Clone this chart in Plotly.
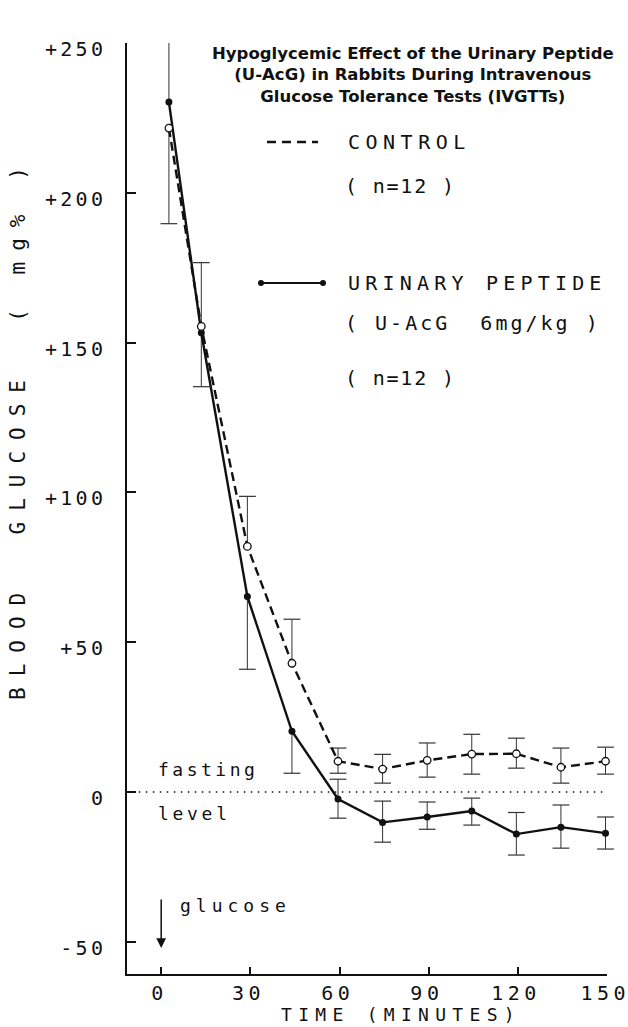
import plotly.graph_objects as go

# --- data -----------------------------------------------------------------
time_min = [2.6, 13.5, 29, 44, 59.5, 74.5, 89.5, 104.5, 119.5, 134.5, 149.5]

control = [221.6, 155.4, 82, 43, 10.3, 7.7, 10.6, 12.7, 12.8, 8.3, 10.3]
control_up = [0, 21.3, 16.7, 14.7, 4.4, 4.9, 5.8, 6.6, 5.2, 6.4, 4.7]
control_down = [31.9, 0, 0, 0, 4.0, 4.7, 5.6, 6.7, 4.8, 5.3, 4.3]

urinary = [230.3, 153.3, 65.3, 20.3, -2.3, -10.1, -8.3, -6.3, -14.0, -11.7, -13.7]
urinary_up = [28.7, 0, 0, 0, 6.6, 7.1, 5.0, 4.3, 7.2, 7.4, 5.4]
urinary_down = [0, 18.0, 24.3, 14.0, 6.4, 6.6, 4.1, 4.7, 7.0, 7.0, 5.3]

y_tick_vals = [-50, 0, 50, 100, 150, 200, 250]
y_tick_text = ["-50", "0", "+50", "+100", "+150", "+200", "+250"]
x_tick_vals = [0, 30, 60, 90, 120, 150]
x_tick_text = ["0", "30", "60", "90", "120", "150"]

# --- page geometry ---------------------------------------------------------
W, H = 628, 1027
L, R, T, B = 127, 21, 43, 53
MONO = "DejaVu Sans Mono"
INK = "#111111"


def px_x(px):
    # pixel column -> paper x
    return (px - L) / (W - L - R)


def px_y(py):
    # pixel row -> paper y
    return (H - B - py) / (H - T - B)


def spaced(text, s):
    return f'<span style="letter-spacing:{s}px">{text}</span>'


def spaced_tick(text, s):
    # letter-spaced, but without the trailing gap after the last glyph
    return spaced(text[:-1], s) + text[-1]


def cap_points(vals, up, down):
    xs, ys = [], []
    for t, v, u, d in zip(time_min, vals, up, down):
        if u > 0:
            xs.append(t)
            ys.append(v + u)
        if d > 0:
            xs.append(t)
            ys.append(v - d)
    return xs, ys


fig = go.Figure()

err_style = dict(type="data", symmetric=False, width=0, thickness=1, color="#333333")

# error bar caps
for vals, up, down in [(control, control_up, control_down), (urinary, urinary_up, urinary_down)]:
    cx, cy = cap_points(vals, up, down)
    fig.add_trace(go.Scatter(
        x=cx, y=cy, mode="markers", cliponaxis=False, hoverinfo="skip",
        marker=dict(symbol="line-ew", size=12, line=dict(width=1.2, color="#333333")),
        showlegend=False,
    ))

# urinary peptide (solid, filled dots)
fig.add_trace(go.Scatter(
    x=time_min, y=urinary, mode="lines+markers", name="URINARY PEPTIDE",
    cliponaxis=False,
    line=dict(color=INK, width=2.4),
    marker=dict(size=7, color=INK),
    error_y=dict(array=urinary_up, arrayminus=urinary_down, **err_style),
    showlegend=False,
))

# control (dashed, open circles)
fig.add_trace(go.Scatter(
    x=time_min, y=control, mode="lines+markers", name="CONTROL",
    cliponaxis=False,
    line=dict(color=INK, width=2.4, dash="9px,5px"),
    marker=dict(size=7.5, color="white", line=dict(width=1.3, color=INK)),
    error_y=dict(array=control_up, arrayminus=control_down, **err_style),
    showlegend=False,
))

# fasting level dotted line
fig.add_shape(type="line", xref="paper", yref="y", x0=0.01, x1=1, y0=0, y1=0,
              line=dict(color=INK, width=1.5, dash="1.5px,5.5px"), layer="below")

# legend keys
fig.add_shape(type="line", xref="paper", yref="paper",
              x0=px_x(267), x1=px_x(318), y0=px_y(142), y1=px_y(142),
              line=dict(color=INK, width=2.4, dash="9px,6px"))
fig.add_shape(type="line", xref="paper", yref="paper",
              x0=px_x(261), x1=px_x(323), y0=px_y(283), y1=px_y(283),
              line=dict(color=INK, width=2))
for cx in (261, 323):
    fig.add_shape(type="circle", xref="paper", yref="paper",
                  xsizemode="pixel", ysizemode="pixel",
                  xanchor=px_x(cx), yanchor=px_y(283),
                  x0=-3, x1=3, y0=-3, y1=3,
                  fillcolor=INK, line=dict(color=INK, width=0))

ann = []


def text_at(text, px, py, size=20, sp=5, xanchor="left", font=MONO, weight="normal", **kw):
    ann.append(dict(
        text=spaced(text, sp) if sp else text,
        x=px_x(px), y=px_y(py), xref="paper", yref="paper",
        xanchor=xanchor, yanchor="middle", showarrow=False,
        font=dict(family=font, size=size, color=INK, weight=weight), **kw,
    ))


text_at("Hypoglycemic Effect of the Urinary Peptide<br>(U-AcG) in Rabbits During Intravenous"
        "<br>Glucose Tolerance Tests (IVGTTs)", 413, 75, size=16.5, sp=0,
        xanchor="center", font="DejaVu Sans", weight="bold", align="center")
text_at("CONTROL", 346, 142, sp=5.5)
text_at("( n=12 )", 343, 186, sp=1.8)
text_at("URINARY PEPTIDE", 346, 283, sp=5.2)
text_at("( U-AcG\u00a0\u00a06mg/kg )", 343, 323, sp=3)
text_at("( n=12 )", 343, 378, sp=1.8)
text_at("fasting", 156, 769, size=18, sp=3.5)
text_at("level", 156, 813, size=18, sp=3.7)
text_at("glucose", 178, 905, size=18, sp=5)
text_at("TIME (MINUTES)", 401, 1014, size=18, sp=6.3, xanchor="center")
text_at("BLOOD\u00a0\u00a0GLUCOSE\u00a0\u00a0(\u00a0mg%\u00a0)", 18, 428, size=21, sp=11,
        xanchor="center", textangle=-90)

# glucose injection arrow
ann.append(dict(
    text="", x=0, y=-52, xref="x", yref="y", ax=0, ay=-50,
    showarrow=True, arrowhead=2, arrowsize=1.3, arrowwidth=1.5, arrowcolor=INK,
    standoff=0,
))

fig.update_layout(
    width=W, height=H,
    margin=dict(l=L, r=R, t=T, b=B),
    paper_bgcolor="white", plot_bgcolor="white",
    annotations=ann,
    showlegend=False,
)

fig.update_xaxes(
    range=[-11.5, 150], tickvals=x_tick_vals,
    ticktext=[spaced_tick(t, 4.5) for t in x_tick_text],
    showgrid=False, zeroline=False, automargin=False,
    showline=True, linecolor=INK, linewidth=2,
    ticks="inside", ticklen=7, tickwidth=1.5, tickcolor=INK,
    tickfont=dict(family=MONO, size=20, color=INK),
    ticklabelstandoff=0, ticklabelshift=-4, ticklabeloverflow="allow",
)
fig.update_yaxes(
    range=[-60.7, 250], tickvals=y_tick_vals,
    ticktext=[spaced_tick(t, 3.3) for t in y_tick_text],
    showgrid=False, zeroline=False, automargin=False,
    showline=True, linecolor=INK, linewidth=2,
    ticks="inside", ticklen=9, tickwidth=1.5, tickcolor=INK,
    tickfont=dict(family=MONO, size=20, color=INK),
    ticklabelstandoff=18, ticklabelshift=6, ticklabeloverflow="allow",
)

# the page body has a default 8px margin; drop it so the figure sits at 0,0
fig.write_html("out.html", config={"displayModeBar": False},
               post_script="document.body.style.margin='0';")
